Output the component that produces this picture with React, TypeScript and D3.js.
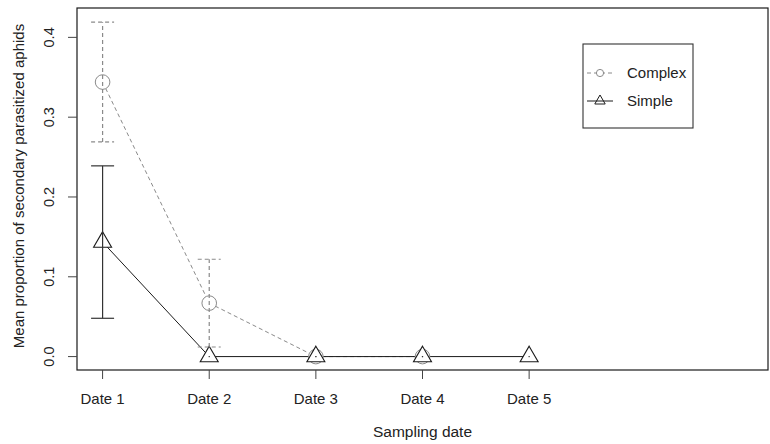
import React from 'react'
import * as d3 from 'd3'

// sampling dates and the two treatment series (mean and error half-width)
const dates = ['Date 1', 'Date 2', 'Date 3', 'Date 4', 'Date 5']
const complexMean = [0.344, 0.067, 0, 0]
const complexErr = [0.075, 0.055, 0, 0]
const simpleMean = [0.1435, 0, 0, 0, 0]
const simpleErr = [0.0955, 0, 0, 0, 0]
const yTicks = [0, 0.1, 0.2, 0.3, 0.4]

const W = 770
const H = 444
const box = { left: 77, right: 768, top: 8, bottom: 370 }
const font = 'Liberation Sans, Arial, Helvetica, sans-serif'
const grey = '#8a8a8a'
const dark = '#1a1a1a'

const App = () => {
    // R style axes: xlim c(1,7), ylim c(0,0.42) padded 4%
    const x = d3.scaleLinear().domain([1 - 0.24, 7 + 0.24]).range([box.left, box.right])
    const y = d3.scaleLinear().domain([-0.0168, 0.42 + 0.0168]).range([box.bottom, box.top])

    const line = d3.line<number>()
        .x((d, i) => x(i + 1))
        .y((d) => y(d))

    const tri = d3.symbol(d3.symbolTriangle, 140)()
    const triSmall = d3.symbol(d3.symbolTriangle, 47)()
    const cap = 11.5

    const errBars = (mean: number[], err: number[], stroke: string, dash?: string) =>
        mean.map((m, i) => {
            const e = err[i]
            if (e === 0) {
                return <rect key={i} x={x(i + 1) - 0.6} y={y(m) - 0.6} width={1.2} height={1.2} fill={stroke} />
            }
            const cx = x(i + 1)
            const y0 = y(m - e)
            const y1 = y(m + e)
            return (
                <g key={i} stroke={stroke} strokeWidth={1.2} strokeDasharray={dash} fill="none">
                    <line x1={cx} x2={cx} y1={y0} y2={y1} />
                    <line x1={cx - cap} x2={cx + cap} y1={y0} y2={y0} />
                    <line x1={cx - cap} x2={cx + cap} y1={y1} y2={y1} />
                </g>
            )
        })

    const lx = 600
    const legY = [73, 101]

    return (
        <svg width={W} height={H} style={{ position: 'absolute', left: 0, top: 0, background: '#fff' }}
            fontFamily={font}>
            {/* series lines */}
            <path d={line(complexMean) || ''} fill="none" stroke={grey} strokeWidth={1} strokeDasharray="4,3" />
            <path d={line(simpleMean) || ''} fill="none" stroke={dark} strokeWidth={1} />

            {/* points */}
            {complexMean.map((m, i) => (
                <circle key={'c' + i} cx={x(i + 1)} cy={y(m)} r={7.3} fill="#fff" stroke={grey} strokeWidth={1} />
            ))}
            {simpleMean.map((m, i) => (
                <path key={'s' + i} d={tri || ''} transform={`translate(${x(i + 1)},${y(m)})`}
                    fill="#fff" stroke={dark} strokeWidth={1.1} strokeLinejoin="miter" />
            ))}

            {/* error bars */}
            {errBars(complexMean, complexErr, grey, '4,3')}
            {errBars(simpleMean, simpleErr, '#333')}

            {/* plot box */}
            <rect x={box.left} y={box.top} width={box.right - box.left} height={box.bottom - box.top}
                fill="none" stroke={dark} strokeWidth={1.2} />

            {/* x axis */}
            {dates.map((d, i) => (
                <g key={d} transform={`translate(${x(i + 1)},0)`}>
                    <line y1={box.bottom} y2={box.bottom + 9} stroke="#444" />
                    <text y={404} textAnchor="middle" fontSize={15} fill="#222">{d}</text>
                </g>
            ))}
            <text x={(box.left + box.right) / 2} y={437} textAnchor="middle" fontSize={15.5} fill="#222">
                Sampling date
            </text>

            {/* y axis */}
            {yTicks.map((t) => (
                <g key={t} transform={`translate(0,${y(t)})`}>
                    <line x1={box.left} x2={box.left - 9} stroke="#444" />
                    <text transform="translate(53.5,0) rotate(-90)" textAnchor="middle" fontSize={14.5} fill="#222">
                        {d3.format('.1f')(t)}
                    </text>
                </g>
            ))}
            <text transform={`translate(24,186) rotate(-90)`} textAnchor="middle"
                fontSize={15} fill="#222">
                Mean proportion of secondary parasitized aphids
            </text>

            {/* legend */}
            <rect x={583} y={44} width={110} height={84} fill="#fff" stroke="#333" strokeWidth={1.1} />
            <line x1={587} x2={613} y1={legY[0]} y2={legY[0]} stroke={grey} strokeDasharray="4,3" />
            <circle cx={lx} cy={legY[0]} r={3.6} fill="#fff" stroke={grey} />
            <text x={627} y={legY[0] + 5} fontSize={15} fill="#222">Complex</text>
            <line x1={587} x2={613} y1={legY[1]} y2={legY[1]} stroke={dark} />
            <path d={triSmall || ''} transform={`translate(${lx},${legY[1]})`} fill="none" stroke={dark} />
            <text x={627} y={legY[1] + 5} fontSize={15} fill="#222">Simple</text>
        </svg>
    )
}

export default App
